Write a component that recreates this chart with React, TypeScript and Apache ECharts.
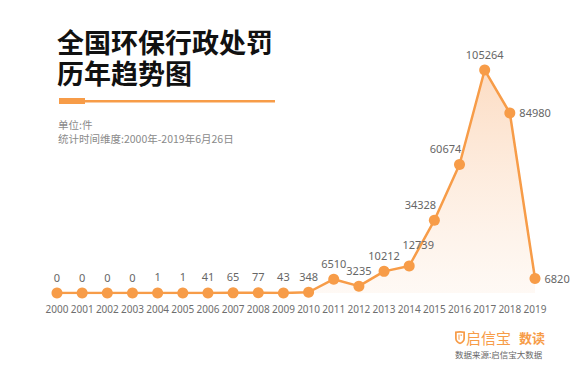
import React, { useEffect, useRef } from "react";
import * as echarts from "echarts";

const years = ["2000","2001","2002","2003","2004","2005","2006","2007","2008","2009","2010","2011","2012","2013","2014","2015","2016","2017","2018","2019"];
const penalties = [0,0,0,0,1,1,41,65,77,43,348,6510,3235,10212,12739,34328,60674,105264,84980,6820];

const titleLines = ["全国环保行政处罚", "历年趋势图"];
const unitText = "单位:件";
const periodText = "统计时间维度:2000年-2019年6月26日";
const brandText = "启信宝";
const brandSub = "数读";
const sourceText = "数据来源:启信宝大数据";

const ORANGE = "#f79c48";
const CJK = '"Noto Sans CJK SC", "Noto Sans", sans-serif';

echarts.graphic.registerShape(
  "qxbShield",
  echarts.graphic.extendPath(
    "M0 1 L10 0 L20 1 L20 12 Q20 19 10 22 Q0 19 0 12 Z M3.5 3.5 L3.5 12 Q3.5 17 10 19 Q16.5 17 16.5 12 L16.5 3.5 L10 3 Z M7 6 L9 6 L9 15 L7 14 Z M11 6 L14 6 L14 8 L11 8 Z",
    {}
  )
);

function labelFor(i: number) {
  if (i === 15 || i === 16) return { position: "top", offset: [-14, 0] };
  if (i === 18 || i === 19) return { position: "right", distance: 4 };
  if (i === 14) return { position: "top", offset: [9, -6] };
  return { position: "top" };
}

export default function App() {
  const ref = useRef<HTMLDivElement>(null);
  useEffect(() => {
    if (!ref.current) return;
    const chart = echarts.init(ref.current, null, { renderer: "svg" });
    chart.setOption({
      animation: false,
      backgroundColor: "#ffffff",
      grid: { left: 57, right: 41, top: 60, bottom: 77 },
      xAxis: {
        type: "category",
        data: years,
        boundaryGap: false,
        axisLine: { show: false },
        axisTick: { show: false },
        axisLabel: {
          interval: 0,
          color: "#6e6e6e",
          fontSize: 10,
          margin: 11,
          fontFamily: '"Noto Sans", sans-serif',
        },
      },
      yAxis: {
        type: "value",
        min: 0,
        max: 110000,
        show: false,
        splitLine: { show: false },
      },
      series: [
        {
          type: "line",
          data: penalties.map((v, i) => ({ value: v, label: labelFor(i) })),
          symbol: "circle",
          symbolSize: 11,
          lineStyle: { color: ORANGE, width: 2.5 },
          itemStyle: { color: ORANGE },
          areaStyle: {
            color: new echarts.graphic.LinearGradient(0, 0, 0, 1, [
              { offset: 0, color: "rgba(249,180,125,0.65)" },
              { offset: 1, color: "rgba(253,236,222,0.45)" },
            ]),
          },
          label: {
            show: true,
            color: "#666666",
            fontSize: 11,
            fontFamily: '"Noto Sans", sans-serif',
            distance: 5,
          },
        },
      ],
      graphic: [
        {
          type: "text",
          left: 57,
          top: 26,
          style: {
            text: titleLines.join("\n"),
            fontSize: 27,
            lineHeight: 31,
            fontWeight: "bold",
            fill: "#111111",
            fontFamily: CJK,
          },
        },
        { type: "rect", shape: { x: 59, y: 98, width: 26, height: 6 }, style: { fill: ORANGE } },
        { type: "rect", shape: { x: 85, y: 100, width: 190, height: 2.5 }, style: { fill: ORANGE } },
        {
          type: "text",
          left: 58,
          top: 119,
          style: { text: unitText, fontSize: 10.5, fill: "#8a8a8a", fontFamily: CJK },
        },
        {
          type: "text",
          left: 58,
          top: 133,
          style: { text: periodText, fontSize: 10.5, fill: "#8a8a8a", fontFamily: CJK },
        },
        {
          type: "qxbShield",
          x: 455,
          y: 331,
          scaleX: 0.5,
          scaleY: 0.6,
          style: { fill: ORANGE },
        },
        {
          type: "text",
          left: 466,
          top: 330,
          style: { text: brandText, fontSize: 15, fill: ORANGE, fontFamily: CJK },
        },
        {
          type: "text",
          left: 519,
          top: 331,
          style: { text: brandSub, fontSize: 13, fontWeight: "bold", fill: ORANGE, fontFamily: CJK },
        },
        {
          type: "text",
          left: 455,
          top: 350,
          style: { text: sourceText, fontSize: 8.5, fill: "#666666", fontFamily: CJK },
        },
      ],
    });
    return () => chart.dispose();
  }, []);
  return <div ref={ref} style={{ width: 576, height: 370, position: "absolute", left: 0, top: 0 }} />;
}
